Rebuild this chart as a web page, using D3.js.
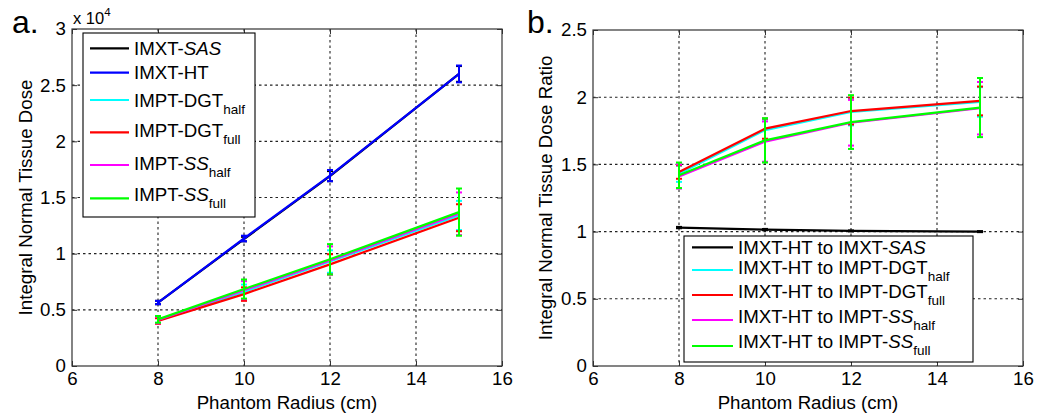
<!DOCTYPE html>
<html><head><meta charset="utf-8">
<script src="https://cdn.jsdelivr.net/npm/d3@7"></script>
<style>
html,body{margin:0;padding:0;background:#fff;}
svg{display:block;font-family:"Liberation Sans",Arial,sans-serif;}
</style></head>
<body><svg id="c" width="1050" height="414"></svg>
<script>
// ---------- data ----------
const radius = [8, 10, 12, 15];
const xTicks = [6, 8, 10, 12, 14, 16];
const yTicksA = [0, 0.5, 1, 1.5, 2, 2.5, 3];
const yTicksB = [0, 0.5, 1, 1.5, 2, 2.5];

// Panel a: integral normal tissue dose (x 10^4)
const doseSAS      = [0.565, 1.13, 1.69, 2.60];
const doseSASErr   = [0.015, 0.02, 0.045, 0.07];
const doseHT       = [0.565, 1.135, 1.695, 2.60];
const doseHTErr    = [0.015, 0.025, 0.05, 0.075];
const doseDGThalf  = [0.41, 0.66, 0.93, 1.34];
const doseDGThalfErr = [0.025, 0.065, 0.10, 0.13];
const doseDGTfull  = [0.40, 0.64, 0.905, 1.32];
const doseDGTfullErr = [0.025, 0.06, 0.09, 0.12];
const doseSShalf   = [0.41, 0.675, 0.94, 1.355];
const doseSShalfErr = [0.03, 0.08, 0.125, 0.19];
const doseSSfull   = [0.415, 0.685, 0.95, 1.37];
const doseSSfullErr = [0.03, 0.085, 0.135, 0.21];

// Panel b: dose ratio
const ratioSAS      = [1.03, 1.015, 1.005, 1.0];
const ratioSASErr   = [0.005, 0.005, 0.004, 0.004];
const ratioDGThalf  = [1.43, 1.755, 1.89, 1.965];
const ratioDGThalfErr = [0.06, 0.08, 0.10, 0.11];
const ratioDGTfull  = [1.443, 1.766, 1.897, 1.972];
const ratioDGTfullErr = [0.05, 0.075, 0.10, 0.107];
const ratioSShalf   = [1.41, 1.67, 1.81, 1.918];
const ratioSShalfErr = [0.09, 0.15, 0.17, 0.195];
const ratioSSfull   = [1.419, 1.679, 1.815, 1.923];
const ratioSSfullErr = [0.095, 0.165, 0.20, 0.22];

const legendA = [
  [["IMXT-",""],["SAS","i"]],
  [["IMXT-HT",""]],
  [["IMPT-DGT",""],["half","sub"]],
  [["IMPT-DGT",""],["full","sub"]],
  [["IMPT-",""],["SS","i"],["half","sub"]],
  [["IMPT-",""],["SS","i"],["full","sub"]]
];
const legendB = [
  [["IMXT-HT to IMXT-",""],["SAS","i"]],
  [["IMXT-HT to IMPT-DGT",""],["half","sub"]],
  [["IMXT-HT to IMPT-DGT",""],["full","sub"]],
  [["IMXT-HT to IMPT-",""],["SS","i"],["half","sub"]],
  [["IMXT-HT to IMPT-",""],["SS","i"],["full","sub"]]
];

// ---------- styles ----------
const C = {black:"#000000", blue:"#0000ff", cyan:"#00ffff", red:"#ff0000", magenta:"#ff00ff", green:"#00ff00"};
const FS = 18.7;

const seriesA = [
  {v:doseSAS, e:doseSASErr, c:C.black},
  {v:doseHT, e:doseHTErr, c:C.blue},
  {v:doseDGThalf, e:doseDGThalfErr, c:C.cyan},
  {v:doseDGTfull, e:doseDGTfullErr, c:C.red},
  {v:doseSShalf, e:doseSShalfErr, c:C.magenta},
  {v:doseSSfull, e:doseSSfullErr, c:C.green}
];
const seriesB = [
  {v:ratioSAS, e:ratioSASErr, c:C.black},
  {v:ratioDGThalf, e:ratioDGThalfErr, c:C.cyan},
  {v:ratioDGTfull, e:ratioDGTfullErr, c:C.red},
  {v:ratioSShalf, e:ratioSShalfErr, c:C.magenta},
  {v:ratioSSfull, e:ratioSSfullErr, c:C.green}
];

const svg = d3.select("#c");

function panel(opt){
  const {x0,x1,y0,y1,yMax,yTicks,series,ylabel,letter,legend,legendColors,leg} = opt;
  const x = d3.scaleLinear().domain([6,16]).range([x0,x1]);
  const y = d3.scaleLinear().domain([0,yMax]).range([y1,y0]);
  const g = svg.append("g");

  // grid
  g.append("g").selectAll("line").data(xTicks.slice(1,-1)).join("line")
    .attr("x1",d=>x(d)).attr("x2",d=>x(d)).attr("y1",y0).attr("y2",y1)
    .attr("stroke","#222").attr("stroke-width",1.1).attr("stroke-dasharray","2.5,3");
  g.append("g").selectAll("line").data(yTicks.filter(t=>t>0&&t<yMax)).join("line")
    .attr("y1",d=>y(d)).attr("y2",d=>y(d)).attr("x1",x0).attr("x2",x1)
    .attr("stroke","#222").attr("stroke-width",1.1).attr("stroke-dasharray","2.5,3");

  // axes (inside ticks, matlab style)
  const axB = g.append("g").attr("transform",`translate(0,${y1})`)
    .call(d3.axisBottom(x).tickValues(xTicks).tickSize(-5).tickPadding(6).tickFormat(d3.format("d")));
  const axT = g.append("g").attr("transform",`translate(0,${y0})`)
    .call(d3.axisTop(x).tickValues(xTicks).tickSize(-5).tickFormat(""));
  const axL = g.append("g").attr("transform",`translate(${x0},0)`)
    .call(d3.axisLeft(y).tickValues(yTicks).tickSize(-5).tickPadding(6).tickFormat(d=>d3.format("")(d)));
  const axR = g.append("g").attr("transform",`translate(${x1},0)`)
    .call(d3.axisRight(y).tickValues(yTicks).tickSize(-5).tickFormat(""));
  [axB,axT,axL,axR].forEach(a=>{
    a.select(".domain").remove();
    a.selectAll("line").attr("stroke","#333");
    a.selectAll("text").attr("font-size",FS).attr("fill","#000").attr("font-family","Liberation Sans, Arial, sans-serif");
  });
  axB.selectAll("text").attr("dy","0.71em");
  g.append("rect").attr("x",x0).attr("y",y0).attr("width",x1-x0).attr("height",y1-y0)
    .attr("fill","none").attr("stroke","#333").attr("stroke-width",1.2);

  // series
  const line = d3.line().x((d,i)=>x(radius[i])).y(d=>y(d));
  series.forEach(s=>{
    const sg = g.append("g");
    sg.append("path").attr("d",line(s.v)).attr("fill","none").attr("stroke",s.c).attr("stroke-width",2.2);
    s.v.forEach((v,i)=>{
      const xi = x(radius[i]), ya = y(v+s.e[i]), yb = y(v-s.e[i]);
      sg.append("line").attr("x1",xi).attr("x2",xi).attr("y1",ya).attr("y2",yb).attr("stroke",s.c).attr("stroke-width",2);
      [ya,yb].forEach(yy=>sg.append("line").attr("x1",xi-3).attr("x2",xi+3).attr("y1",yy).attr("y2",yy).attr("stroke",s.c).attr("stroke-width",2));
    });
  });

  // labels
  g.append("text").attr("x",(x0+x1)/2).attr("y",409).attr("text-anchor","middle")
    .attr("font-size",FS).text("Phantom Radius (cm)");
  g.append("text").attr("transform",`translate(${opt.ylx},${(y0+y1)/2}) rotate(-90)`)
    .attr("text-anchor","middle").attr("font-size",FS).text(ylabel);
  g.append("text").attr("x",opt.lx).attr("y",33).attr("font-size",32).text(letter);

  // legend
  const lg = g.append("g");
  lg.append("rect").attr("x",leg.x).attr("y",leg.y).attr("width",leg.w).attr("height",leg.h)
    .attr("fill","#fff").attr("stroke","#000").attr("stroke-width",1.1);
  legend.forEach((segs,i)=>{
    lg.append("line").attr("x1",leg.lx1).attr("x2",leg.lx2).attr("y1",leg.rows[i]).attr("y2",leg.rows[i])
      .attr("stroke",legendColors[i]).attr("stroke-width",2.2);
    const t = lg.append("text").attr("x",leg.tx).attr("y",leg.rows[i]+leg.tdy[i]).attr("font-size",FS);
    segs.forEach(([txt,st])=>{
      const sp = t.append("tspan").text(txt);
      if(st==="i") sp.attr("font-style","italic");
      if(st==="sub") sp.attr("font-size",13.5).attr("dy",7);
    });
  });
  return {x,y,g};
}

const pa = panel({
  x0:72, x1:502, y0:29, y1:366, yMax:3, yTicks:yTicksA, series:seriesA,
  ylabel:"Integral Normal Tissue Dose", ylx:32, letter:"a.", lx:12,
  legend:legendA, legendColors:[C.black,C.blue,C.cyan,C.red,C.magenta,C.green],
  leg:{x:83, y:33, w:172, h:184, lx1:90, lx2:129, tx:134,
       rows:[48.3,72.7,100,132.3,165,198.3], tdy:[6.5,6.5,6.5,4.5,5,3]}
});
// x 10^4 multiplier
const mt = pa.g.append("text").attr("x",73).attr("y",24).attr("font-size",16.5);
mt.append("tspan").text("x 10");
mt.append("tspan").attr("font-size",11.5).attr("dy",-8).text("4");

panel({
  x0:593, x1:1023, y0:30, y1:366, yMax:2.5, yTicks:yTicksB, series:seriesB,
  ylabel:"Integral Normal Tissue Dose Ratio", ylx:552, letter:"b.", lx:527,
  legend:legendB, legendColors:[C.black,C.cyan,C.red,C.magenta,C.green],
  leg:{x:684, y:236, w:289, h:126, lx1:692, lx2:733, tx:738,
       rows:[247.3,270,295,320,346], tdy:[6.5,4,3.3,3.3,2.3]}
});
</script></body></html>
